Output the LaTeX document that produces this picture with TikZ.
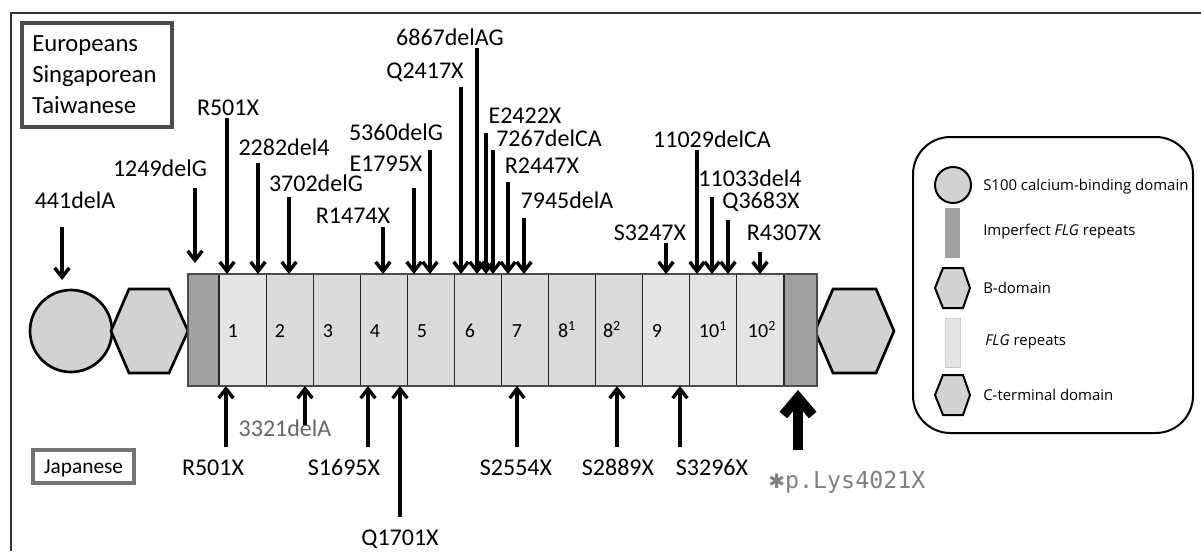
\documentclass[tikz,border=0pt]{standalone}
\usepackage{fontspec}
\setmainfont{Carlito}
\newfontfamily\legfont{Open Sans}
\newfontfamily\monofont{DejaVu Sans Mono}
\newfontfamily\symfont{DejaVu Sans}
\usetikzlibrary{arrows.meta}
\definecolor{domfill}{HTML}{D2D2D2}
\definecolor{darkrep}{HTML}{A0A0A0}
\definecolor{rep}{HTML}{DADADA}
\definecolor{repl}{HTML}{E4E4E4}
\tikzset{
  arr/.style={line width=2.6pt, -{Straight Barb[length=7pt,width=11pt]}},
  bigarr/.style={line width=7.5pt, -{Straight Barb[length=13pt,width=22pt]}},
  lab/.style={font=\fontsize{18}{21}\selectfont, inner sep=0pt, anchor=base},
  num/.style={font=\fontsize{15}{18}\selectfont, inner sep=0pt, anchor=base},
  dom/.style={fill=domfill, draw=black, line width=2pt},
  leg/.style={font=\legfont\fontsize{11.2}{13}\selectfont, anchor=base west, inner sep=0pt},
  segline/.style={draw=black!85, line width=0.8pt},
}
\begin{document}
\begin{tikzpicture}[x=0.75pt,y=-0.75pt]
\useasboundingbox (0,0) rectangle (1201,551);
% outer frame
\draw[line width=1pt, black!80] (11,551) -- (11,13) -- (1201,13);
% population boxes
\draw[line width=2.8pt, black!70] (22,23) rectangle (172,127);
\node[font=\fontsize{18.5}{23}\selectfont, inner sep=0pt, anchor=base west] (eu) at (32,51) {Europeans};
\node[font=\fontsize{18.5}{23}\selectfont, inner sep=0pt, anchor=base west] (sg) at (32,82) {Singaporean};
\node[font=\fontsize{18.5}{23}\selectfont, inner sep=0pt, anchor=base west] (tw) at (32,113) {Taiwanese};
\draw[line width=2.4pt, black!55] (33,450) rectangle (134,483);
\node[font=\fontsize{16}{18}\selectfont, inner sep=0pt, anchor=base] (jp) at (83.5,473) {Japanese};
% N-terminal domains
\draw[dom] (71,331) circle (41);
\draw[dom] (111,331) -- (129,289) -- (169,289) -- (188,331) -- (169,373) -- (129,373) -- cycle;
\draw[dom] (815,331) -- (833,289) -- (876,289) -- (894,331) -- (876,373) -- (833,373) -- cycle;
% bar
\fill[darkrep] (188,274) rectangle (219,386);
\fill[darkrep] (784,274) rectangle (817,386);
\foreach \i/\c in {0/repl,1/rep,2/rep,3/rep,4/rep,5/rep,6/rep,7/rep,8/rep,9/repl,10/repl,11/repl}{
  \fill[\c] ({219+47.08*\i},274) rectangle ({219+47.08*(\i+1)},386);
}
\foreach \i in {0,...,12}{
  \draw[segline] ({219+47.08*\i},274) -- ({219+47.08*\i},386);
}
\draw[line width=0.8pt, black!70] (188,274) rectangle (817,386);
% repeat numbers
\foreach \n/\x/\t in {n1/233/1,n2/280/2,n3/328/3,n4/375/4,n5/422/5,n6/470/6,n7/517/7,n81/567/8\textsuperscript{1},n82/612/8\textsuperscript{2},n9/657/9,n101/713/10\textsuperscript{1},n102/762/10\textsuperscript{2}}{
  \node[num] (\n) at (\x,337) {\t};
}
% top labels
\foreach \n/\x/\y/\t in {
  a/75/208/441delA, b/160/176/1249delG, c/228/115/R501X, d/284/155/2282del4,
  e/316/191/3702delG, f/353/223/R1474X, g/386/171/E1795X, h/396/140/5360delG,
  i/425/78/Q2417X, j/450/45/6867delAG, k/525/123/E2422X, l/549/146/7267delCA,
  m/542/173/R2447X, n/567/208/7945delA, o/650/240/S3247X, p/712/147/11029delCA,
  q/750/186/11033del4, r/761/208/Q3683X, s/784/240/R4307X}{
  \node[lab] (L\n) at (\x,\y) {\t};
}
% top arrows
\foreach \n/\x/\ya/\yb in {
  a/62/227/280, b/195/188/263, c/227/118/274, d/258/163/274, e/289/197/274,
  f/383/227/274, g/414/188/274, h/430/150/274, i/461/87/274, j/477/48/274,
  k/486/133/274, l/493/150/274, m/508/182/274, n/524/218/274, o/666/243/274,
  p/697/150/274, q/712/197/274, r/728/220/274, s/760/252/274}{
  \coordinate (S\n) at (\x,\ya);
  \coordinate (E\n) at (\x,\yb);
  \draw[arr] (S\n) -- (E\n);
}
% bottom labels
\foreach \n/\x/\y/\t in {
  A/213/475/R501X, C/344/475/S1695X, D/400/545/Q1701X,
  E/516/475/S2554X, F/618/475/S2889X, G/712/475/S3296X}{
  \node[lab] (L\n) at (\x,\y) {\t};
}
\node[lab, text=black!60] (LB) at (285,436) {3321delA};
% bottom arrows
\foreach \n/\x/\ya in {A/226/447, B/305/425, C/368/447, D/400/517, E/517/447, F/617/447, G/680/447}{
  \coordinate (S\n) at (\x,\ya);
  \coordinate (E\n) at (\x,386);
  \draw[arr] (S\n) -- (E\n);
}
\coordinate (SK) at (798,450);
\coordinate (EK) at (798,390);
\draw[bigarr] (SK) -- (EK);
\node[inner sep=0pt, anchor=base west, text=black!50] (LK) at (768,488) {{\symfont\fontsize{15}{18}\selectfont ✱}{\monofont\fontsize{17.5}{20}\selectfont p.Lys4021X}};
% legend
\draw[line width=1.5pt, rounded corners=28] (913,137) rectangle (1193,433);
\draw[dom, line width=1.5pt] (953,185) circle (18);
\fill[darkrep] (945,208) rectangle (960,258);
\draw[dom, line width=1.5pt] (935,288) -- (943,268) -- (963,268) -- (970,288) -- (963,308) -- (943,308) -- cycle;
\draw[fill=repl, draw=black!20] (945,318) rectangle (960,367);
\draw[dom, line width=1.5pt] (935,395) -- (943,375) -- (963,375) -- (970,395) -- (963,415) -- (943,415) -- cycle;
\node[leg] (g1) at (983,190) {S100 calcium-binding domain};
\node[leg] (g2) at (983,235) {Imperfect \textit{FLG} repeats};
\node[leg] (g3) at (983,293) {B-domain};
\node[leg] (g4) at (985,345) {\textit{FLG} repeats};
\node[leg] (g5) at (983,400) {C-terminal domain};
\end{tikzpicture}
\end{document}
